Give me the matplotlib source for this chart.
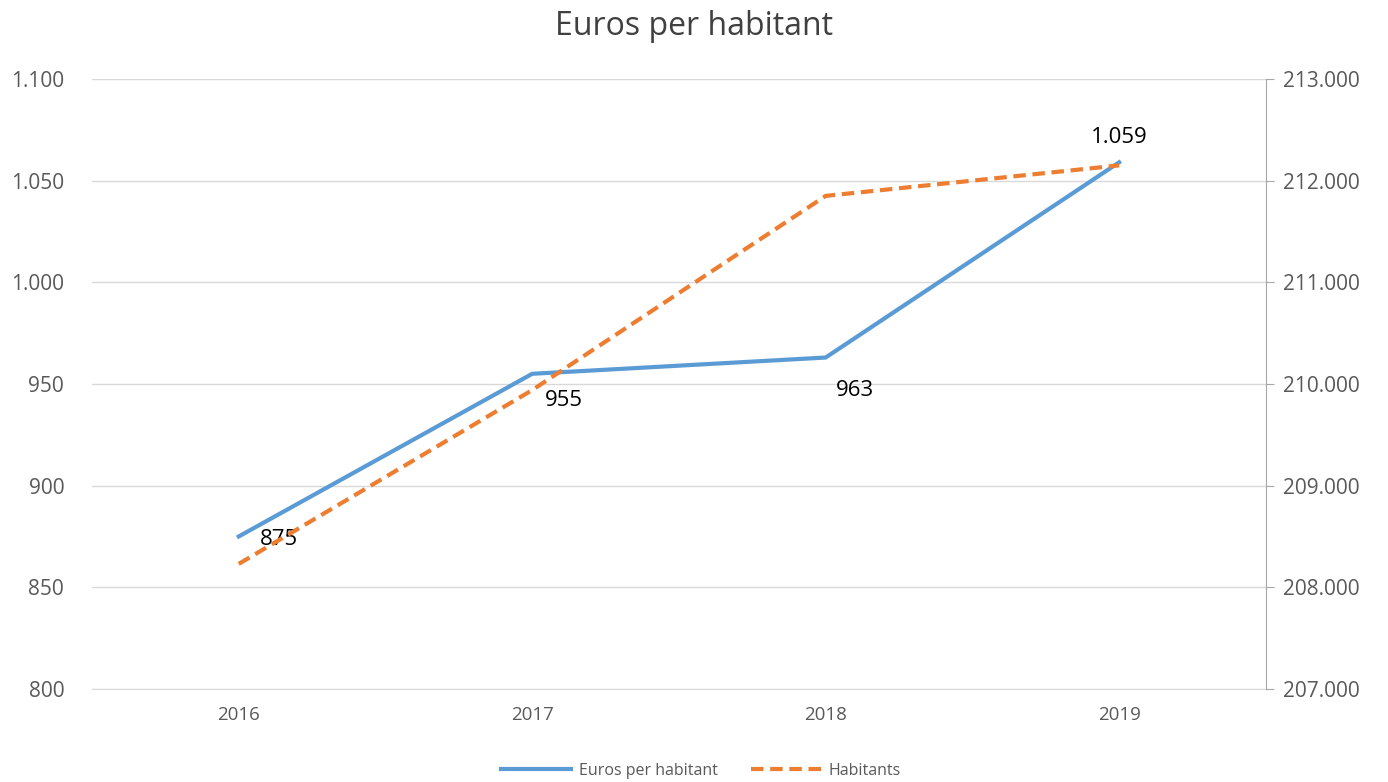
import matplotlib.pyplot as plt
from matplotlib.ticker import FuncFormatter

# data
anys = ["2016", "2017", "2018", "2019"]
euros_hab = [875, 955, 963, 1059]
habitants = [208230, 209940, 211850, 212150]

plt.rcParams['font.family'] = ['Open Sans', 'DejaVu Sans']

BLAU = "#5b9bd5"
TARONJA = "#ed7d31"
GRIS = "#595959"

def punts(v, pos):
    return f"{v:,.0f}".replace(",", ".")

fig = plt.figure(figsize=(13.88, 7.82), dpi=100)
ax = fig.add_axes([0.0663, 0.119, 0.8457, 0.780])
ax2 = ax.twinx()

x = list(range(len(anys)))
l1, = ax.plot(x, euros_hab, color=BLAU, lw=3, label="Euros per habitant", zorder=3)
l2, = ax2.plot(x, habitants, color=TARONJA, lw=3, ls=(0, (3, 1.6)), label="Habitants", zorder=3)

ax.set_xlim(-0.5, 3.5)
ax.set_ylim(800, 1100)
ax.set_yticks(range(800, 1101, 50))
ax2.set_ylim(207000, 213000)
ax2.set_yticks(range(207000, 213001, 1000))
ax.yaxis.set_major_formatter(FuncFormatter(punts))
ax2.yaxis.set_major_formatter(FuncFormatter(punts))
ax.set_xticks(x)
ax.set_xticklabels(anys)

ax.grid(axis="y", color="#d9d9d9", lw=1)
ax.set_axisbelow(True)
for a in (ax, ax2):
    for s in ("top", "left", "right"):
        a.spines[s].set_visible(False)
    a.spines["bottom"].set_color("#d9d9d9")
ax2.spines["right"].set_visible(True)
ax2.spines["right"].set_color("#a6a6a6")
ax2.spines["bottom"].set_visible(False)

ax.tick_params(axis="y", length=0, labelsize=15, labelcolor=GRIS, pad=20)
ax.tick_params(axis="x", length=0, labelsize=13.5, labelcolor=GRIS, pad=12)
ax2.tick_params(axis="y", length=6, color="#a6a6a6", labelsize=15, labelcolor=GRIS, pad=6)

# etiquetes de dades
despl = [(15, -2, "left", "center"), (9, -12, "left", "top"),
         (7, -16, "left", "top"), (0, 10, "center", "bottom")]
for xi, v, (dx, dy, ha, va) in zip(x, euros_hab, despl):
    ax.annotate(punts(v, None), (xi, v), xytext=(dx, dy), textcoords="offset points",
                ha=ha, va=va, fontsize=16, color="black", zorder=5)

fig.suptitle("Euros per habitant", y=0.987, fontsize=23, color="#404040")
fig.legend(handles=[l1, l2], loc="lower center", ncol=2, frameon=False,
           bbox_to_anchor=(0.505, -0.014), fontsize=11.5, labelcolor=GRIS,
           handlelength=4.4, handletextpad=0.45, columnspacing=2.1)

fig.savefig("out.png", dpi=100)
